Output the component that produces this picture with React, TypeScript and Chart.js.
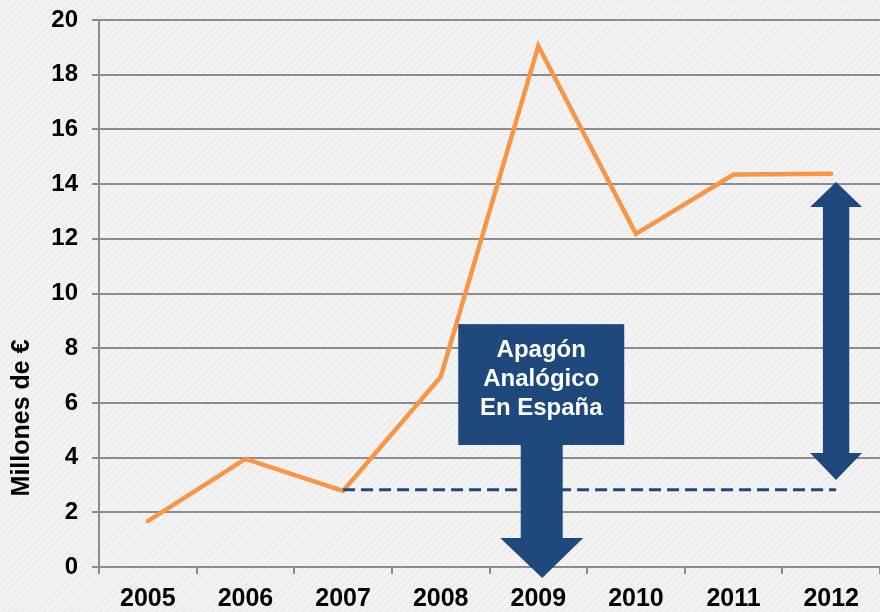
import React, { useEffect, useRef } from "react";
import { Chart, registerables } from "chart.js";

Chart.register(...registerables);

const years = ["2005", "2006", "2007", "2008", "2009", "2010", "2011", "2012"];
const revenue = [1.68, 3.95, 2.78, 6.95, 19.05, 12.18, 14.35, 14.38];
const yTicks = [0, 2, 4, 6, 8, 10, 12, 14, 16, 18, 20];
const yAxisTitle = "Millones de €";
const calloutLines = ["Apagón", "Analógico", "En España"];

// annotation geometry in data units (category index / value)
const baselineValue = 2.82;
const baselineFrom = 2; // 2007
const baselineTo = 7.05;
const calloutBox = { x0: 3.18, x1: 4.88, y0: 4.46, y1: 8.88 };
const calloutArrow = { shaft0: 3.82, shaft1: 4.25, head0: 3.61, head1: 4.46, headBase: 1.06, tipX: 4.04, tipY: -0.4 };
const gapArrow = { x: 7.05, shaftHalf: 0.135, headHalf: 0.266, top: 14.08, topBase: 13.16, bottom: 3.18, bottomBase: 4.17 };

const NAVY = "#1F497D";
const ORANGE = "#F79646";
const GRID = "#8C8C8C";
const FONT = "'Liberation Sans', Arial, sans-serif";

const bgPlugin = {
  id: "bgStripes",
  beforeDraw(chart: any) {
    const { ctx, width, height } = chart;
    ctx.save();
    ctx.fillStyle = "#EDEDED";
    ctx.fillRect(0, 0, width, height);
    ctx.strokeStyle = "#F4F4F4";
    ctx.lineWidth = 2.5;
    for (let k = -height; k < width + height; k += 7) {
      ctx.beginPath();
      ctx.moveTo(k, height);
      ctx.lineTo(k + height, 0);
      ctx.stroke();
    }
    ctx.restore();
  },
};

const annotationPlugin = {
  id: "annotations",
  afterDatasetsDraw(chart: any) {
    const { ctx } = chart;
    const xs = chart.scales.x;
    const ys = chart.scales.y;
    const px = (i: number) => xs.getPixelForValue(i);
    const py = (v: number) => ys.getPixelForValue(v);
    ctx.save();

    // dashed baseline
    ctx.strokeStyle = NAVY;
    ctx.lineWidth = 3;
    ctx.setLineDash([12, 6]);
    ctx.beginPath();
    ctx.moveTo(px(baselineFrom), py(baselineValue));
    ctx.lineTo(px(baselineTo), py(baselineValue));
    ctx.stroke();
    ctx.setLineDash([]);

    ctx.fillStyle = NAVY;
    // callout box
    const bx0 = px(calloutBox.x0), bx1 = px(calloutBox.x1);
    const by0 = py(calloutBox.y1), by1 = py(calloutBox.y0);
    ctx.fillRect(bx0, by0, bx1 - bx0, by1 - by0);
    // callout arrow
    const a = calloutArrow;
    ctx.beginPath();
    ctx.moveTo(px(a.shaft0), by1 - 1);
    ctx.lineTo(px(a.shaft1), by1 - 1);
    ctx.lineTo(px(a.shaft1), py(a.headBase));
    ctx.lineTo(px(a.head1), py(a.headBase));
    ctx.lineTo(px(a.tipX), py(a.tipY));
    ctx.lineTo(px(a.head0), py(a.headBase));
    ctx.lineTo(px(a.shaft0), py(a.headBase));
    ctx.closePath();
    ctx.fill();

    // callout text
    ctx.fillStyle = "#FFFFFF";
    ctx.font = `bold 24px ${FONT}`;
    ctx.textAlign = "center";
    ctx.textBaseline = "middle";
    const cx = (bx0 + bx1) / 2;
    calloutLines.forEach((t, i) => {
      ctx.fillText(t, cx, by0 + 26 + i * 29);
    });

    // double arrow
    const g = gapArrow;
    const gx = px(g.x);
    const sh = (px(g.x + g.shaftHalf) - gx);
    const hh = (px(g.x + g.headHalf) - gx);
    ctx.fillStyle = NAVY;
    ctx.beginPath();
    ctx.moveTo(gx, py(g.top));
    ctx.lineTo(gx + hh, py(g.topBase));
    ctx.lineTo(gx + sh, py(g.topBase));
    ctx.lineTo(gx + sh, py(g.bottomBase));
    ctx.lineTo(gx + hh, py(g.bottomBase));
    ctx.lineTo(gx, py(g.bottom));
    ctx.lineTo(gx - hh, py(g.bottomBase));
    ctx.lineTo(gx - sh, py(g.bottomBase));
    ctx.lineTo(gx - sh, py(g.topBase));
    ctx.lineTo(gx - hh, py(g.topBase));
    ctx.closePath();
    ctx.fill();

    // y axis title
    ctx.fillStyle = "#000000";
    ctx.font = `bold 25px ${FONT}`;
    ctx.translate(22, py(5.45));
    ctx.rotate(-Math.PI / 2);
    ctx.textAlign = "center";
    ctx.textBaseline = "middle";
    ctx.fillText(yAxisTitle, 0, 0);
    ctx.restore();
  },
};

export default function App() {
  const ref = useRef<HTMLCanvasElement>(null);
  useEffect(() => {
    if (!ref.current) return;
    const chart = new Chart(ref.current, {
      type: "line",
      data: {
        labels: years,
        datasets: [
          {
            data: revenue,
            borderColor: ORANGE,
            backgroundColor: ORANGE,
            borderWidth: 4.5,
            pointRadius: 0,
            tension: 0,
            borderCapStyle: "round",
            borderJoinStyle: "miter",
          },
        ],
      },
      options: {
        animation: false,
        responsive: false,
        devicePixelRatio: 1,
        layout: { padding: { top: 20, left: 0, right: 0, bottom: 0 } },
        plugins: { legend: { display: false }, tooltip: { enabled: false } },
        scales: {
          x: {
            offset: true,
            grid: {
              offset: true,
              drawOnChartArea: false,
              drawTicks: true,
              tickLength: 7,
              color: GRID,
              lineWidth: 2,
            },
            border: { display: true, color: GRID, width: 2 },
            ticks: {
              color: "#000",
              font: { family: FONT, size: 25, weight: "bold" },
              padding: 10,
              maxRotation: 0,
              autoSkip: false,
            },
            afterFit: (s: any) => {
              s.height = 45;
            },
          },
          y: {
            min: 0,
            max: 20,
            afterBuildTicks: (s: any) => {
              s.ticks = yTicks.map((v) => ({ value: v }));
            },
            grid: {
              color: GRID,
              lineWidth: 2,
              drawTicks: true,
              tickLength: 7,
            },
            border: { display: true, color: GRID, width: 2 },
            ticks: {
              color: "#000",
              font: { family: FONT, size: 24, weight: "bold" },
              padding: 14,
            },
            afterFit: (s: any) => {
              s.width = 99;
              s.paddingTop = 0;
              s.paddingBottom = 0;
            },
          },
        },
      },
      plugins: [bgPlugin, annotationPlugin],
    } as any);
    return () => chart.destroy();
  }, []);
  return (
    <div style={{ position: "fixed", left: 0, top: 0, width: 880, height: 612 }}>
      <canvas ref={ref} width={880} height={612} />
    </div>
  );
}
